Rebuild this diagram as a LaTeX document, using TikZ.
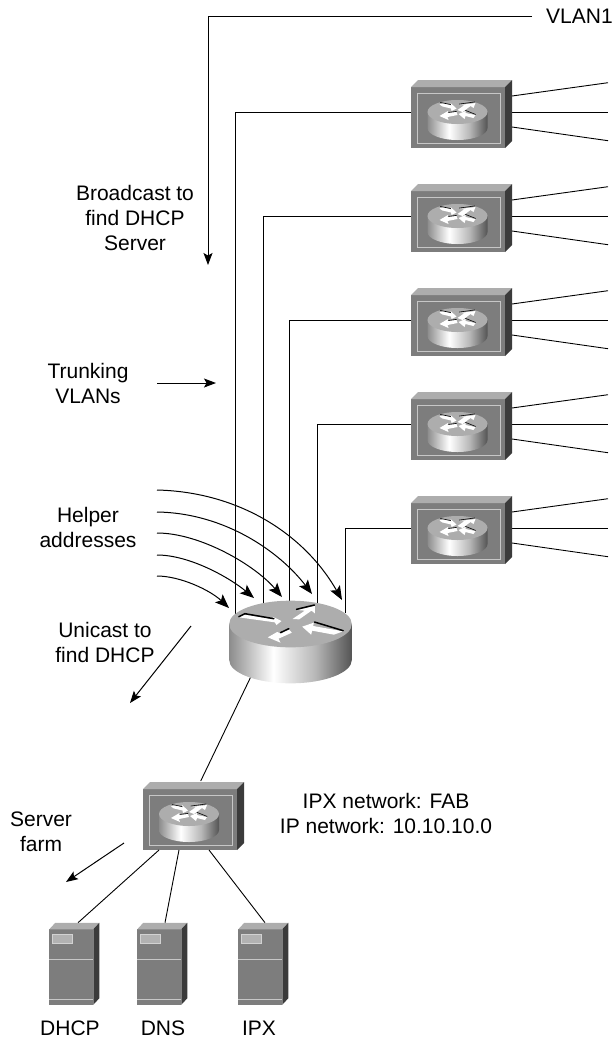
\documentclass[tikz,border=0pt]{standalone}
\usepackage{fontspec}
\setmainfont{Liberation Sans}
\usetikzlibrary{arrows.meta}
\pgfdeclarehorizontalshading{cylside}{100bp}{rgb(0bp)=(.55,.55,.55);rgb(25bp)=(.55,.55,.55);rgb(43bp)=(1,1,1);rgb(60bp)=(.72,.72,.72);rgb(75bp)=(.33,.33,.33);rgb(100bp)=(.33,.33,.33)}
\definecolor{frontgray}{gray}{.49}
\definecolor{topgray}{gray}{.68}
\definecolor{sidegray}{gray}{.23}
\definecolor{trimgray}{gray}{.78}
\tikzset{
  wire/.style={draw=black,line width=.9pt},
  pointer/.style={draw=black,line width=1pt,-{Stealth[length=12pt,width=9pt,inset=2.5pt]}},
  helper/.style={draw=black,line width=1pt,-{Stealth[length=14pt,width=11pt,inset=3pt]}},
  lbl/.style={font=\fontsize{21}{25}\selectfont,align=center,inner sep=0pt,text=black},
  swfront/.style={fill=frontgray,minimum width=94pt,minimum height=61pt,inner sep=0pt,outer sep=0pt},
  srvfront/.style={fill=frontgray,minimum width=44pt,minimum height=75.5pt,inner sep=0pt,outer sep=0pt},
  arrowwhite/.style={fill=white,draw=none},
  arrowblack/.style={draw=black,line cap=round}
}
% central router, coordinates in 1/3 px about the top ellipse centre
\newcommand{\bigrouter}[2]{%
  \begin{scope}[shift={(#1,#2)},scale=.3333]
    \shade[shading=cylside] (-184,0) -- (-184,108) arc[start angle=180,end angle=0,x radius=184,y radius=70] -- (184,0) -- cycle;
    \fill[topgray] (0,0) ellipse[x radius=184,y radius=70];
    \fill[arrowwhite] (-155,-20) -- (-137,-28) -- (-52,-14) -- (-54,-22) -- (-27,-9) -- (-42,3) -- (-47,-5) -- cycle;
    \draw[arrowblack,line width=1.5pt] (-155,-22) -- (-137,-31) -- (-50,-16);
    \fill[arrowwhite] (-5,16) -- (-30,28) -- (-40,24) -- (-68,40) -- (-30,56) -- (-36,44) -- (4,26) -- cycle;
    \draw[arrowblack,line width=1.5pt] (-5,14) -- (-30,26);
    \fill[arrowwhite] (6,-15) -- (43,-40) -- (20,-42) -- (73,-55) -- (73,-32) -- (63,-40) -- (26,-14) -- cycle;
    \draw[arrowblack,line width=1.5pt] (18,-44) -- (72,-57);
    \fill[arrowwhite] (35,8) -- (70,-4) -- (68,6) -- (158,22) -- (130,32) -- (65,20) -- (62,32) -- cycle;
    \draw[arrowblack,line width=1.5pt] (72,-6) -- (158,20);
  \end{scope}
}
% small router inside a switch, coordinates in px about the top ellipse centre
\newcommand{\smallrouter}[2]{%
  \begin{scope}[shift={(#1,#2)}]
    \shade[shading=cylside] (-30,0) -- (-30,16) arc[start angle=180,end angle=0,x radius=30,y radius=12] -- (30,0) -- cycle;
    \fill[topgray] (0,0) ellipse[x radius=30,y radius=12];
    \fill[arrowwhite] (-18,-7.5) -- (-14,-9) -- (-6,-6.5) -- (-7,-9) -- (-1,-3.5) -- (-6,-1) -- (-6.5,-3.5) -- (-15,-5.5) -- cycle;
    \draw[arrowblack,line width=.6pt] (-17,-9.5) -- (-7,-7.5);
    \fill[arrowwhite] (-1,0) -- (-10,1) -- (-9.5,-1) -- (-18,4) -- (-9,8) -- (-10,5) -- (0,3) -- cycle;
    \draw[arrowblack,line width=.6pt] (-1,-.6) -- (-9,.4);
    \fill[arrowwhite] (0,-2) -- (7,-7) -- (2,-7) -- (18,-9) -- (16,-4) -- (13,-6) -- (5,0) -- cycle;
    \draw[arrowblack,line width=.6pt] (2,-8) -- (17,-10);
    \fill[arrowwhite] (1,2) -- (8,-1) -- (8,1) -- (18,3) -- (16,6) -- (8,4) -- (7,7) -- cycle;
    \draw[arrowblack,line width=.6pt] (8,-1.6) -- (18,2.4);
  \end{scope}
}
% switch box around an existing front node
\newcommand{\switchbox}[1]{%
  \fill[topgray] (#1.north west) -- ++(7,-7) -- ++(94,0) -- (#1.north east) -- cycle;
  \fill[sidegray] (#1.north east) -- ++(7,-7) -- ++(0,61) -- (#1.south east) -- cycle;
  \draw[trimgray,line width=.8pt] ([shift={(6,6)}]#1.north west) rectangle ([shift={(-5,-5)}]#1.south east);
}
\newcommand{\serverbox}[1]{%
  \fill[topgray] (#1.north west) -- ++(6,-6.5) -- ++(44,0) -- (#1.north east) -- cycle;
  \fill[sidegray] (#1.north east) -- ++(6,-6.5) -- ++(0,75.5) -- (#1.south east) -- cycle;
  \draw[fill=gray!60!white,draw=gray!35!white,line width=.6pt] ([shift={(3,5.5)}]#1.north west) rectangle ([shift={(23,14)}]#1.north west);
  \draw[trimgray,line width=.6pt] ([shift={(0,30)}]#1.north west) -- ([shift={(0,30)}]#1.north east);
  \draw[trimgray,line width=.6pt] ([shift={(0,70)}]#1.north west) -- ([shift={(0,70)}]#1.north east);
}
\begin{document}
\begin{tikzpicture}[x=1pt,y=-1pt]
\useasboundingbox (0,0) rectangle (614,1039);
% anchor points on the central router
\coordinate (r1) at (235,615);
\coordinate (r2) at (263,603);
\coordinate (r3) at (289,601);
\coordinate (r4) at (317.5,603);
\coordinate (r5) at (345.5,613);
\coordinate (rbot) at (250.7,677);
% switches
\node[swfront] (s1) at (458,117.5) {};
\node[swfront] (s2) at (458,221.5) {};
\node[swfront] (s3) at (458,325.5) {};
\node[swfront] (s4) at (458,429.5) {};
\node[swfront] (s5) at (458,533.5) {};
\node[swfront] (s6) at (190,819.5) {};
\node[srvfront] (dhcp) at (71.3,967) {};
\node[srvfront] (dns) at (159.3,967) {};
\node[srvfront] (ipx) at (260.3,967) {};
% wires
\foreach \i in {1,2,3,4,5}{
  \draw[wire] ([yshift=5.5pt]s\i.west) -| (r\i);
}
\foreach \i/\yy in {1/0,2/104,3/208,4/312,5/416}{
  \coordinate (t\i a) at (608,82.7+\yy);
  \coordinate (t\i b) at (608,112+\yy);
  \coordinate (t\i c) at (608,140.7+\yy);
  \draw[wire] (512,96+\yy) -- (t\i a);
  \draw[wire] (512,112+\yy) -- (t\i b);
  \draw[wire] (512,127+\yy) -- (t\i c);
}
\draw[wire] (rbot) -- (200.7,781);
\draw[wire] (159,850) -- (78,922.7);
\draw[wire] (179,850) -- (165,922.7);
\draw[wire] (209,850) -- (265,922.7);
% devices
\foreach \n in {s1,s2,s3,s4,s5,s6}{\switchbox{\n}}
\foreach \n in {dhcp,dns,ipx}{\serverbox{\n}}
\foreach \yy in {112,216,320,424,528}{\smallrouter{457.5}{\yy}}
\smallrouter{189}{814}
\bigrouter{290.5}{624}
% VLAN1 feed
\coordinate (vend) at (532,16);
\coordinate (vcorner) at (208,16);
\coordinate (vtip) at (208,265);
\draw[wire] (vend) -- (vcorner);
\draw[pointer] (vcorner) -- (vtip);
% pointers
\coordinate (ta) at (157,383);
\coordinate (tb) at (216,383);
\draw[pointer] (ta) -- (tb);
\coordinate (ua) at (191,626);
\coordinate (ub) at (130,703);
\draw[pointer] (ua) -- (ub);
\coordinate (fa) at (124,843);
\coordinate (fb) at (66,882);
\draw[pointer] (fa) -- (fb);
% helper arrows
\coordinate (h1a) at (157,490);  \coordinate (h1b) at (342,600);
\coordinate (h2a) at (157,512);  \coordinate (h2b) at (312,594);
\coordinate (h3a) at (157,533);  \coordinate (h3b) at (282,597);
\coordinate (h4a) at (157,555);  \coordinate (h4b) at (254,598);
\coordinate (h5a) at (157,576);  \coordinate (h5b) at (229,608);
\draw[helper] (h1a) .. controls (240,492) and (305,535) .. (h1b);
\draw[helper] (h2a) .. controls (225,513) and (280,552) .. (h2b);
\draw[helper] (h3a) .. controls (200,533) and (255,565) .. (h3b);
\draw[helper] (h4a) .. controls (190,555) and (230,578) .. (h4b);
\draw[helper] (h5a) .. controls (180,576) and (210,590) .. (h5b);
% labels
\node[lbl,anchor=west] (vlan) at (546,16) {VLAN1};
\node[lbl] (bc) at (135,218) {Broadcast to\\find DHCP\\Server};
\node[lbl] (tr) at (88,383) {Trunking\\VLANs};
\node[lbl] (he) at (88,527) {Helper\\addresses};
\node[lbl] (un) at (105,642) {Unicast to\\find DHCP};
\node[lbl] (sf) at (41,832) {Server\\farm};
\node[lbl] (ipn) at (386,813) {IPX network: FAB\\IP network: 10.10.10.0};
\node[lbl] (ld) at (70,1028) {DHCP};
\node[lbl] (ln) at (163,1028) {DNS};
\node[lbl] (li) at (259,1028) {IPX};
\end{tikzpicture}
\end{document}
